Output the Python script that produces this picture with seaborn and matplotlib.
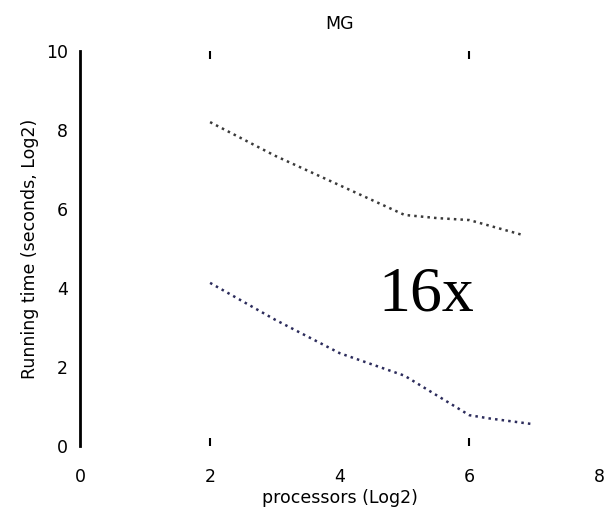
import matplotlib
matplotlib.use("Agg")
import matplotlib.pyplot as plt
import pandas as pd
import seaborn as sns

# Data (log2 processors vs log2 running time)
upper_x = [2, 3, 4, 5, 5.5, 6, 6.85]
upper_y = [8.2, 7.35, 6.6, 5.85, 5.77, 5.72, 5.33]
lower_x = [2, 3, 4, 5, 6, 6.3, 6.95]
lower_y = [4.13, 3.2, 2.35, 1.78, 0.78, 0.7, 0.56]

x_ticks = [0, 2, 4, 6, 8]
y_ticks = [0, 2, 4, 6, 8, 10]

df_up = pd.DataFrame({"procs": upper_x, "time": upper_y})
df_low = pd.DataFrame({"procs": lower_x, "time": lower_y})

sns.set_style("white")
plt.rcParams['font.family'] = ['DejaVu Sans']
plt.rcParams['text.color'] = 'black'
plt.rcParams['axes.labelcolor'] = 'black'
plt.rcParams['xtick.color'] = 'black'
plt.rcParams['ytick.color'] = 'black'

fig = plt.figure(figsize=(6.06, 5.2), dpi=100)
ax = fig.add_axes([0.1328, 0.1423, 0.8556, 0.7596])

sns.lineplot(data=df_up, x="procs", y="time", ax=ax, color="#3a3a3a",
             linestyle=":", linewidth=1.8)
sns.lineplot(data=df_low, x="procs", y="time", ax=ax, color="#2c2c5c",
             linestyle=":", linewidth=1.8)

ax.set_xlim(0, 8)
ax.set_ylim(0, 10)
ax.set_xticks(x_ticks)
ax.set_yticks(y_ticks)
ax.xaxis.remove_overlapping_locs = False
ax.set_xticks([2, 6], minor=True)

for s in ["top", "right", "bottom"]:
    ax.spines[s].set_visible(False)
ax.spines["left"].set_linewidth(2)
ax.spines["left"].set_color("black")

ax.tick_params(axis="x", which="major", length=0, pad=16, labelsize=12.5)
ax.tick_params(axis="x", which="minor", length=6, width=1.5, direction="in",
               top=True, bottom=True, color="black")
ax.tick_params(axis="y", length=0, pad=9, labelsize=12.5)

ax.set_title("MG", fontsize=12.5, pad=16)
ax.set_xlabel("processors (Log2)", fontsize=12.5)
ax.set_ylabel("Running time (seconds, Log2)", fontsize=12.5)
ax.xaxis.set_label_coords(0.5, -0.11)
ax.yaxis.set_label_coords(-0.08, 0.5)

ax.text(5.34, 3.82, "16x", fontsize=46, family="Liberation Serif",
        ha="center", va="center", color="black")

fig.savefig("out.png", dpi=100)
